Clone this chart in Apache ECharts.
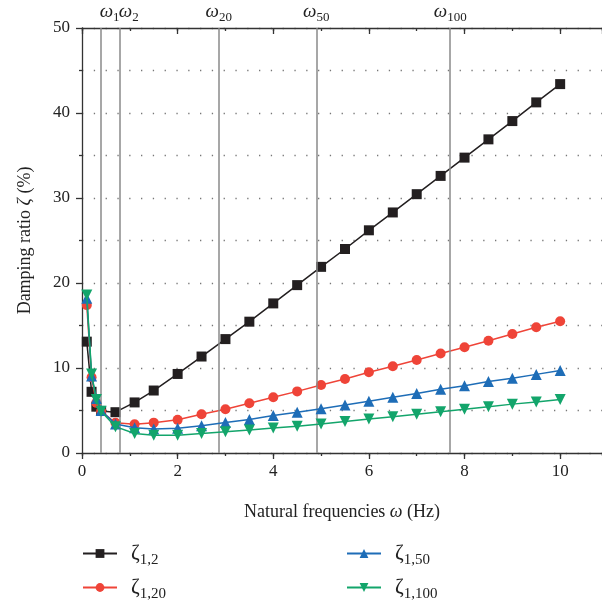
<!DOCTYPE html>
<html>
<head>
<meta charset="utf-8">
<script src="https://cdn.jsdelivr.net/npm/echarts@6/dist/echarts.min.js"></script>
<style>html,body{margin:0;padding:0;background:#fff}#c{width:602px;height:604px}</style>
</head>
<body>
<div id="c"></div>
<script>
// ---- data ----
var freqs = [0.1,0.2,0.3,0.4,0.7,1.1,1.5,2,2.5,3,3.5,4,4.5,5,5.5,6,6.5,7,7.5,8,8.5,9,9.5,10];
var zeta12 = [13.1,7.2,5.45,4.95,4.8,5.95,7.35,9.3,11.35,13.4,15.45,17.6,19.75,21.9,24.0,26.2,28.3,30.45,32.6,34.75,36.9,39.05,41.25,43.4];
var zeta120 = [17.4,8.9,5.9,4.9,3.55,3.37,3.57,3.9,4.55,5.15,5.85,6.55,7.25,8.0,8.7,9.5,10.2,10.95,11.7,12.45,13.2,14.0,14.8,15.5];
var zeta150 = [18.2,9.05,6.4,5.0,3.4,2.98,2.82,2.9,3.2,3.6,3.95,4.4,4.8,5.2,5.65,6.1,6.55,7.0,7.5,7.9,8.4,8.8,9.25,9.7];
var zeta1100 = [18.6,9.3,6.3,4.9,3.1,2.3,2.1,2.1,2.3,2.5,2.7,2.95,3.15,3.4,3.7,4.0,4.27,4.55,4.85,5.15,5.45,5.75,6.0,6.3];
var seriesNames = ['ζ1,2','ζ1,20','ζ1,50','ζ1,100'];
var seriesSubs = ['1,2','1,20','1,50','1,100'];
var omegaPos = [0.39, 0.79, 2.86, 4.9, 7.7];
var omegaSubs = ['1','2','20','50','100'];
var xTicksMax = 10;
var yMax = 50;

var FONT = '"Liberation Serif", "DejaVu Serif", serif';
var colors = ['#231f20','#ef4438','#1e6db7','#13a56b'];
var symbols = ['rect','circle','triangle','triangle'];
var symbolSizes = [10,10,11,11];
var symbolRot = [0,0,0,180];

function pairs(ys){ return freqs.map(function(x,i){ return [x, ys[i]]; }); }
var allY = [zeta12, zeta120, zeta150, zeta1100];

var chart = echarts.init(document.getElementById('c'), null, {renderer:'canvas'});

var XMAX = 10.875;
var axisLineStyle = {color:'#333', width:1.3};

var series = allY.map(function(ys, i){
  return {
    name: seriesNames[i],
    type: 'line',
    xAxisIndex: 0, yAxisIndex: 0,
    data: pairs(ys),
    symbol: symbols[i],
    symbolSize: symbolSizes[i],
    symbolRotate: symbolRot[i],
    showAllSymbol: true,
    lineStyle: {color: colors[i], width: 1.5},
    itemStyle: {color: colors[i]},
    z: 3 + i,
    animation: false
  };
});

series[0].markLine = {
  silent: true,
  symbol: ['none','none'],
  animation: false,
  lineStyle: {color:'#8a8a8a', width:1.5, type:'solid'},
  label: {
    show: true, position: 'end', distance: 7,
    formatter: function(p){ return '{w|ω}{s|' + omegaSubs[p.dataIndex] + '}'; },
    rich: {
      w: {fontFamily: FONT, fontStyle:'italic', fontSize: 19, color:'#222', verticalAlign:'bottom'},
      s: {fontFamily: FONT, fontSize: 13, color:'#222', verticalAlign:'bottom', padding:[0,0,-3,0]}
    }
  },
  data: omegaPos.map(function(v, i){
    var d = {xAxis: v};
    if (i < 2) d.label = {align: 'left', offset:[-1,0]};
    return d;
  })
};

function mkLegend(idx, left, top){
  return {
    data: [seriesNames[idx]],
    orient: 'horizontal', left: left, top: top, itemWidth: 34, itemHeight: 11, itemGap: 0,
    formatter: function(n){ return '{z|ζ}{s|' + seriesSubs[seriesNames.indexOf(n)] + '}'; },
    textStyle: {padding:[0,0,0,9], rich: {
      z: {fontFamily: FONT, fontSize: 21, color:'#222', verticalAlign:'bottom'},
      s: {fontFamily: FONT, fontSize: 15, color:'#222', verticalAlign:'bottom', padding:[0,0,-4,0]}
    }}
  };
}

var option = {
  backgroundColor: '#fff',
  animation: false,
  color: colors,
  grid: {left: 82, right: -2, top: 28, bottom: 151, containLabel: false},
  legend: [
    mkLegend(0, 77, 538),
    mkLegend(1, 77, 572),
    mkLegend(2, 341, 538),
    mkLegend(3, 341, 572)
  ],
  xAxis: [
    {
      type:'value', position:'bottom', min:0, max:XMAX, interval:2,
      name: '{t|Natural frequencies }{i|ω}{t| (Hz)}', nameLocation:'middle', nameGap: 50,
      nameTextStyle: {rich: {
        t: {fontFamily: FONT, fontSize: 18, color:'#222'},
        i: {fontFamily: FONT, fontSize: 18, fontStyle:'italic', color:'#222'}
      }},
      axisLine: {show:true, lineStyle: axisLineStyle},
      axisTick: {show:true, inside:false, length:6, lineStyle:{color:'#333', width:1.3}},
      axisLabel: {show:true, margin: 10, fontFamily: FONT, fontSize: 17, color:'#222',
        showMaxLabel:false, formatter: function(v){ return v <= xTicksMax ? String(v) : ''; }},
      splitLine: {show:false}
    },
    {
      type:'value', position:'bottom', min:0, max:XMAX, interval:1,
      axisLine:{show:false}, axisLabel:{show:false}, splitLine:{show:false},
      axisTick:{show:true, inside:false, length:3, lineStyle:{color:'#333', width:1.3}}
    },
    {
      type:'value', position:'top', min:0, max:XMAX, interval:2,
      axisLine: {show:true, onZero:false, lineStyle: axisLineStyle},
      axisTick: {show:true, inside:true, length:6, lineStyle:{color:'#333', width:1.3}},
      axisLabel:{show:false}, splitLine:{show:false}
    },
    {
      type:'value', position:'top', min:0, max:XMAX, interval:1,
      axisLine:{show:false}, axisLabel:{show:false}, splitLine:{show:false},
      axisTick:{show:true, inside:true, length:3, lineStyle:{color:'#333', width:1.3}}
    }
  ],
  yAxis: [{
    type:'value', min:0, max:yMax, interval:10,
    name: '{t|Damping ratio }{i|ζ}{t| (%)}', nameLocation:'middle', nameGap: 48, nameRotate: 90,
    nameTextStyle: {rich: {
      t: {fontFamily: FONT, fontSize: 18, color:'#222'},
      i: {fontFamily: FONT, fontSize: 18, fontStyle:'italic', color:'#222'}
    }},
    axisLine: {show:true, onZero:false, lineStyle: axisLineStyle},
    axisTick: {show:true, inside:false, length:6, lineStyle:{color:'#333', width:1.3}},
    minorTick: {show:true, splitNumber:2, length:3, lineStyle:{color:'#333', width:1.3}},
    axisLabel: {margin: 12, fontFamily: FONT, fontSize: 17, color:'#222'},
    splitLine: {show:true, lineStyle:{color:'#777', width:1.3, type:[1.3, 10.5]}},
    minorSplitLine: {show:true, lineStyle:{color:'#777', width:1.3, type:[1.3, 10.5]}}
  }],
  series: series
};
chart.setOption(option);
</script>
</body>
</html>
